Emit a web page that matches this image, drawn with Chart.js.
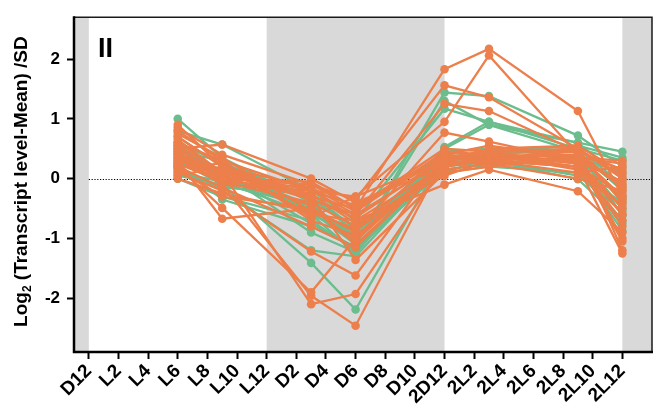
<!DOCTYPE html>
<html><head><meta charset="utf-8">
<script src="https://cdn.jsdelivr.net/npm/chart.js@4.4.0/dist/chart.umd.min.js"></script>
<style>html,body{margin:0;padding:0;background:#fff}#wrap{width:664px;height:406px}</style>
</head><body><div id="wrap"><canvas id="c" width="664" height="406"></canvas></div>
<script>
// Time axis: hours from first D12
const tickHours = [0,2,4,6,8,10,12,14,16,18,20,22,24,26,28,30,32,34,36];
const tickLabels = ['D12','L2','L4','L6','L8','L10','L12','D2','D4','D6','D8','D10','2D12','2L2','2L4','2L6','2L8','2L10','2L12'];
const yTickValues = [-2,-1,0,1,2];
const sampleHours = [6,9,15,18,24,27,33,36];
const darkPeriods = [[-1,0],[12,24],[36,38]];
const panelLabel = 'II';

// Orange transcripts (values at sampleHours)
const orangeSeries = [
  [0.90, 0.20, -0.30, -0.50, 1.83, 2.17, 1.13, -0.30],
  [0.60, 0.10, -0.20, -0.30, 0.95, 2.06, 0.40, -0.10],
  [0.50, 0.00, -0.10, -0.35, 1.56, 1.36, 0.50, 0.00],
  [0.80, 0.30, -0.20, -0.60, 1.25, 1.13, 0.45, -0.40],
  [0.30, -0.67, -0.50, -0.90, 0.77, 0.62, 0.30, -0.50],
  [0.20, -0.49, -1.90, -1.00, 0.30, 0.40, 0.35, -1.00],
  [0.40, 0.10, -2.10, -1.93, 0.25, 0.30, 0.20, -1.25],
  [0.35, -0.10, -1.96, -2.46, 0.35, 0.45, 0.50, -1.20],
  [0.10, -0.20, -1.22, -1.62, 0.40, 0.35, 0.30, -0.60],
  [0.50, 0.57, 0.00, -0.40, 0.20, 0.30, 0.10, 0.20],
  [0.25, 0.00, -0.30, -1.36, 0.10, 0.20, 0.40, -0.30],
  [0.70, 0.20, -0.60, -0.70, -0.10, 0.15, -0.21, -0.90],
  [0.15, -0.30, -0.50, -1.04, 0.30, 0.50, 0.55, 0.10],
  [0.45, -0.05, -0.40, -0.80, 0.15, 0.25, 0.30, -0.05],
  [0.05, 0.20, -0.15, -0.55, 0.45, 0.40, 0.20, -0.70],
  [0.60, 0.30, -0.70, -0.95, 0.20, 0.35, 0.45, -0.15],
  [0.30, 0.05, -0.25, -0.75, 0.05, 0.30, 0.35, 0.30],
  [0.20, -0.15, -0.80, -1.15, 0.30, 0.40, 0.15, -0.45],
  [0.85, 0.40, -0.10, -0.50, 0.50, 0.45, 0.25, -0.80],
  [0.35, 0.15, -0.35, -0.65, 0.35, 0.30, 0.50, 0.05],
  [0.00, -0.25, -0.55, -0.85, 0.10, 0.20, 0.40, -0.35],
  [0.55, 0.05, -0.45, -1.10, 0.25, 0.35, 0.30, -1.05],
  [0.40, -0.10, -0.20, -0.45, 0.40, 0.55, 0.35, 0.25],
  [0.20, 0.25, -0.65, -0.30, 0.30, 0.25, 0.00, -0.20],
  [0.65, 0.10, -0.35, -0.60, 0.30, 0.40, 0.25, -0.60],
  [0.25, -0.05, -0.15, -0.70, 0.20, 0.35, 0.40, -0.15],
  [0.75, 0.35, -0.55, -0.85, 0.40, 0.30, 0.20, -0.25],
  [0.45, 0.00, -0.05, -0.50, 0.35, 0.45, 0.45, 0.15]
];
// Green transcripts (values at sampleHours)
const greenSeries = [
  [1.00, 0.35, -0.40, -1.10, 1.44, 1.38, 0.72, 0.20],
  [0.80, 0.57, -0.20, -0.70, 1.17, 0.95, 0.60, 0.45],
  [0.50, 0.10, -0.90, -1.23, 0.53, 0.95, 0.50, -0.62],
  [0.30, -0.10, -1.41, -2.19, 0.40, 0.30, 0.20, -0.87],
  [0.20, -0.20, -1.20, -1.30, 0.30, 0.35, 0.40, -0.50],
  [0.00, -0.30, -0.70, -1.20, 0.20, 0.30, -0.01, -0.70],
  [0.55, 0.00, -0.50, -1.05, 0.45, 0.50, 0.35, 0.10],
  [0.60, 0.25, -0.30, -0.90, 0.35, 0.40, 0.50, 0.30],
  [0.10, -0.05, -0.60, -0.95, 0.10, 0.35, 0.30, -0.30],
  [0.40, 0.15, -0.45, -1.00, 0.50, 0.90, 0.60, 0.00],
  [0.25, -0.35, -0.80, -1.15, 0.25, 0.20, 0.10, -0.40],
  [0.70, 0.20, -0.35, -0.80, 0.30, 0.45, 0.55, 0.35],
  [0.35, 0.05, -0.55, -1.10, 1.30, 0.90, 0.45, -0.20],
  [0.15, -0.15, -0.25, -0.85, 0.20, 0.30, 0.05, -0.55],
  [0.45, 0.30, -0.60, -1.25, 0.45, 0.35, 0.30, -0.75],
  [0.05, -0.10, -0.45, -0.95, 0.30, 0.40, 0.50, -0.10],
  [0.55, 0.10, -0.75, -1.15, 0.15, 0.25, 0.35, -0.35]
];

const ORANGE = '#ec7f4b';
const GREEN = '#6cbd8e';
const FONT = '"Liberation Sans", Arial, sans-serif';

function mk(series, color) {
  return series.map(s => ({
    data: sampleHours.map((h, i) => ({x: h, y: s[i]})),
    borderColor: color, backgroundColor: color,
    pointBackgroundColor: color, pointBorderColor: color,
    borderWidth: 2.3, pointRadius: 4.3, pointBorderWidth: 0, tension: 0, fill: false
  }));
}
// dataset 0 is drawn on top in Chart.js, so orange first
const datasets = mk(orangeSeries, ORANGE).concat(mk(greenSeries, GREEN));

const decor = {
  id: 'decor',
  beforeDatasetsDraw(chart) {
    const {ctx, chartArea: a, scales: {x, y}} = chart;
    ctx.save();
    ctx.fillStyle = '#d9d9d9';
    darkPeriods.forEach(([p0, p1]) => {
      const x0 = Math.max(a.left, x.getPixelForValue(p0));
      const x1 = Math.min(a.right, x.getPixelForValue(p1));
      ctx.fillRect(x0, a.top, x1 - x0, a.bottom - a.top);
    });
    // dotted zero line
    ctx.strokeStyle = '#000';
    ctx.lineWidth = 1;
    ctx.setLineDash([1.2, 1.6]);
    const yz = Math.round(y.getPixelForValue(0)) + 0.5;
    ctx.beginPath();
    ctx.moveTo(x.getPixelForValue(0), yz);
    ctx.lineTo(a.right, yz);
    ctx.stroke();
    ctx.setLineDash([]);
    // panel label
    ctx.fillStyle = '#000';
    ctx.font = 'bold 27px ' + FONT;
    ctx.textBaseline = 'alphabetic';
    ctx.fillText(panelLabel, 98, 57);
    ctx.restore();
  },
  afterDraw(chart) {
    const {ctx, chartArea: a} = chart;
    ctx.save();
    // frame
    ctx.strokeStyle = '#1a1a1a';
    ctx.lineWidth = 1.5;
    ctx.beginPath();
    ctx.moveTo(a.left, a.top); ctx.lineTo(a.right, a.top); ctx.lineTo(a.right, a.bottom);
    ctx.stroke();
    ctx.strokeStyle = '#000';
    ctx.lineWidth = 2.5;
    ctx.beginPath();
    ctx.moveTo(a.left, a.top - 1); ctx.lineTo(a.left, a.bottom); ctx.lineTo(a.right + 1, a.bottom);
    ctx.stroke();
    // y title with subscript
    const t1 = 'Log', sub = '2', t2 = ' (Transcript level-Mean) /SD';
    const big = 'bold 19px ' + FONT, small = 'bold 12px ' + FONT;
    ctx.font = big; const w1 = ctx.measureText(t1).width, w3 = ctx.measureText(t2).width;
    ctx.font = small; const w2 = ctx.measureText(sub).width;
    const total = w1 + w2 + w3;
    ctx.translate(27, (a.top + a.bottom) / 2 - 3);
    ctx.rotate(-Math.PI / 2);
    ctx.fillStyle = '#000';
    ctx.textBaseline = 'alphabetic';
    ctx.textAlign = 'left';
    let px = -total / 2;
    ctx.font = big; ctx.fillText(t1, px, 0); px += w1;
    ctx.font = small; ctx.fillText(sub, px, 4); px += w2;
    ctx.font = big; ctx.fillText(t2, px, 0);
    ctx.restore();
  }
};

new Chart(document.getElementById('c'), {
  type: 'line',
  data: {datasets},
  options: {
    responsive: false, animation: false, devicePixelRatio: 1,
    layout: {padding: {top: 14, right: 12, left: 0, bottom: 0}},
    plugins: {legend: {display: false}, tooltip: {enabled: false}},
    scales: {
      x: {
        type: 'linear', min: -1, max: 38,
        afterBuildTicks: s => { s.ticks = tickHours.map(v => ({value: v})); },
        afterFit: s => { s.height = 54; },
        grid: {drawOnChartArea: false, drawTicks: true, tickLength: 7, tickWidth: 2, tickColor: '#000'},
        border: {display: false},
        ticks: {
          autoSkip: false, minRotation: 45, maxRotation: 45, padding: 1,
          color: '#000', font: {family: FONT, size: 19, weight: 'bold'},
          callback: v => tickLabels[tickHours.indexOf(v)]
        }
      },
      y: {
        type: 'linear', min: -2.9, max: 2.7,
        afterBuildTicks: s => { s.ticks = yTickValues.map(v => ({value: v})); },
        afterFit: s => { s.width = 74; },
        grid: {drawOnChartArea: false, drawTicks: true, tickLength: 7, tickWidth: 2, tickColor: '#000'},
        border: {display: false},
        ticks: {
          padding: 7, color: '#000', font: {family: FONT, size: 17, weight: 'bold'},
          callback: v => String(v)
        }
      }
    }
  },
  plugins: [decor]
});
</script></body></html>
